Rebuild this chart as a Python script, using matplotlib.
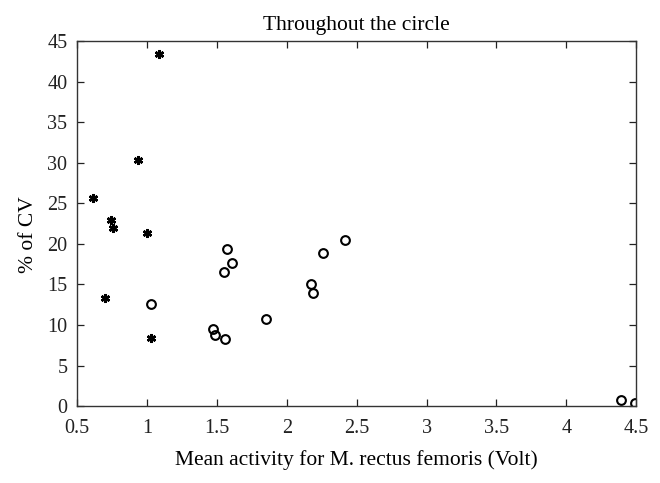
import matplotlib
matplotlib.use("Agg")
import matplotlib.pyplot as plt

plt.rcParams['font.family'] = ['Liberation Serif', 'DejaVu Serif']

# asterisk group
star_x = [1.087, 0.936, 0.612, 0.745, 0.757, 0.997, 0.700, 1.030]
star_y = [43.4, 30.4, 25.7, 22.9, 21.9, 21.4, 13.3, 8.4]

# circle group
circ_x = [1.027, 1.569, 1.605, 1.548, 1.475, 1.487, 1.560, 1.854,
          2.174, 2.190, 2.256, 2.417, 4.394, 4.488]
circ_y = [12.6, 19.4, 17.7, 16.5, 9.5, 8.8, 8.25, 10.8,
          15.1, 13.9, 18.85, 20.45, 0.8, 0.35]

xticks = [0.5, 1, 1.5, 2, 2.5, 3, 3.5, 4, 4.5]
xticklabels = ['0.5', '1', '1.5', '2', '2.5', '3', '3.5', '4', '4.5']
yticks = list(range(0, 50, 5))

fig = plt.figure(figsize=(6.6, 4.83), dpi=100)
ax = fig.add_axes([0.117, 0.159, 0.847, 0.756])

ax.plot(star_x, star_y, linestyle='none', marker=(6, 2, 0), markersize=6.5,
        color='black', markeredgewidth=1.8)
ax.plot(circ_x, circ_y, linestyle='none', marker='o', markersize=6.3,
        markerfacecolor='none', markeredgecolor='black', markeredgewidth=1.5)

ax.set_xlim(0.5, 4.5)
ax.set_ylim(0, 45)
ax.set_xticks(xticks)
ax.set_xticklabels(xticklabels)
ax.set_yticks(yticks)
ax.tick_params(direction='in', length=5, width=0.9, top=True, right=True,
               labelsize=14.5, colors='#222222')
ax.tick_params(axis='x', pad=9)
ax.tick_params(axis='y', pad=7)
for s in ax.spines.values():
    s.set_linewidth(1.0)
    s.set_color('#333333')

ax.set_title('Throughout the circle', fontsize=15.5, pad=8)
ax.set_xlabel('Mean activity for M. rectus femoris (Volt)', fontsize=15.5, labelpad=9)
ax.set_ylabel('% of CV', fontsize=15.5)
ax.yaxis.set_label_coords(-0.07, 0.47)

fig.savefig('out.png', dpi=100)
